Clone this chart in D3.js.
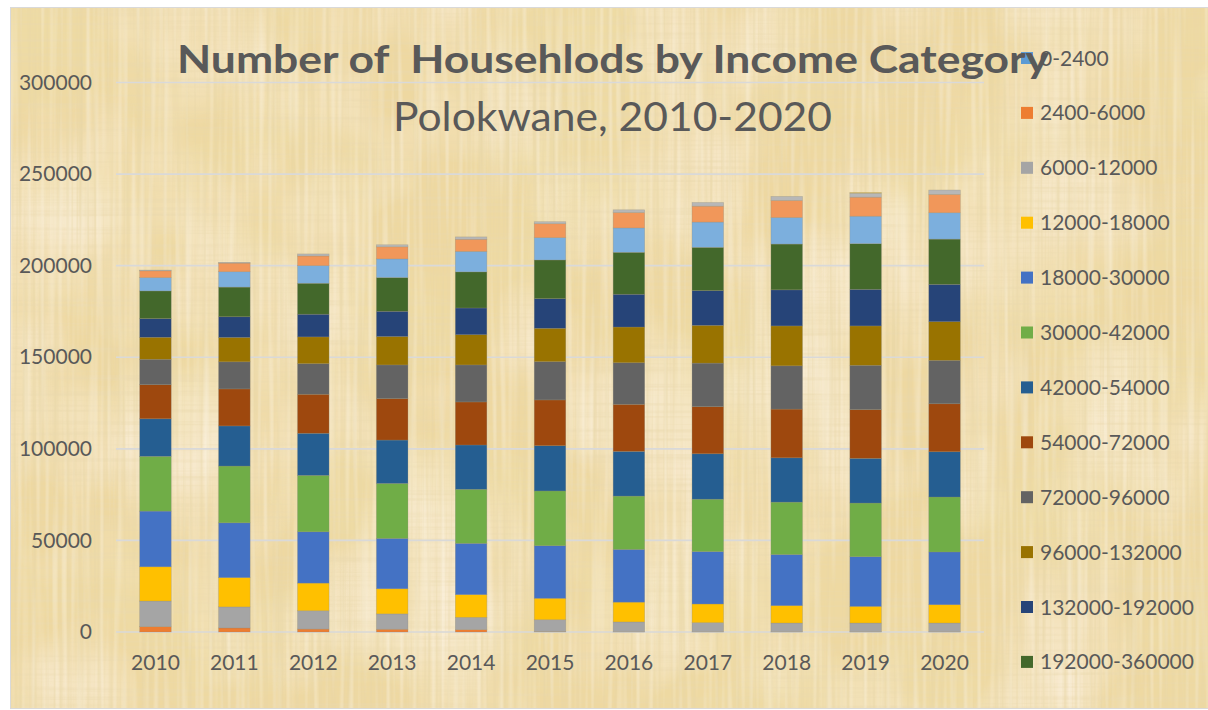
<!DOCTYPE html>
<html>
<head>
<meta charset="utf-8">
<script src="https://cdn.jsdelivr.net/npm/d3@7"></script>
<style>
  html, body { margin: 0; padding: 0; background: #ffffff; }
  svg { display: block; }
  text { font-family: Lato, "Open Sans", "Noto Sans", sans-serif; fill: #595959; }
</style>
</head>
<body>
<svg id="chart" width="1208" height="710"></svg>
<script>
// Years on the category axis
const years = ["2010", "2011", "2012", "2013", "2014", "2015", "2016", "2017", "2018", "2019", "2020"];

// Annual household income bands (Rand), bottom of the stack first
const incomeBands = [
  "0-2400", "2400-6000", "6000-12000", "12000-18000", "18000-30000", "30000-42000",
  "42000-54000", "54000-72000", "72000-96000", "96000-132000", "132000-192000",
  "192000-360000", "360000-600000", "600000-1200000", "1200000-2400000", "2400000+"
];

// Only these bands fit in the legend box
const legendBands = incomeBands.slice(0, 12);

// Number of households per band, one value per year
const band0_2400        = [0, 0, 0, 0, 0, 0, 0, 0, 0, 0, 0];
const band2400_6000     = [2900, 2200, 1600, 1500, 1300, 200, 100, 100, 100, 100, 100];
const band6000_12000    = [14000, 11500, 10000, 8400, 6700, 6500, 5400, 5000, 4800, 4800, 4800];
const band12000_18000   = [18700, 16000, 15100, 13700, 12400, 11700, 10800, 10200, 9500, 9100, 10000];
const band18000_30000   = [30400, 29900, 28000, 27500, 28000, 28700, 28800, 28600, 27900, 27100, 28800];
const band30000_42000   = [29900, 31000, 30800, 30000, 29500, 29900, 29100, 28600, 28600, 29300, 30000];
const band42000_54000   = [20500, 21900, 23000, 23700, 24200, 24700, 24400, 24800, 24200, 24400, 24700];
const band54000_72000   = [18600, 20200, 21300, 22600, 23500, 25000, 25700, 25700, 26600, 26600, 26200];
const band72000_96000   = [13900, 14800, 16700, 18400, 20200, 20900, 22700, 23800, 23600, 24200, 23700];
const band96000_132000  = [12000, 13300, 14600, 15500, 16500, 18200, 19500, 20600, 21800, 21500, 21100];
const band132000_192000 = [10200, 11300, 12400, 13800, 14600, 16200, 17900, 19000, 19700, 20000, 20400];
const band192000_360000 = [15100, 16200, 16900, 18400, 19700, 21100, 22900, 23600, 25000, 24900, 24700];
const band360000_600000 = [7300, 8400, 9600, 10200, 11200, 12200, 13300, 13800, 14500, 15000, 14400];
const band600000_1200000 = [3700, 4700, 5300, 6600, 6600, 7600, 8400, 8700, 9300, 10400, 10000];
const band1200000_2400000 = [400, 400, 1100, 1100, 1300, 1100, 1500, 2000, 2200, 2200, 2400];
const band2400000_plus  = [0, 0, 0, 0, 0, 0, 0, 0, 0, 300, 0];

const bandValues = [
  band0_2400, band2400_6000, band6000_12000, band12000_18000, band18000_30000,
  band30000_42000, band42000_54000, band54000_72000, band72000_96000,
  band96000_132000, band132000_192000, band192000_360000, band360000_600000,
  band600000_1200000, band1200000_2400000, band2400000_plus
];

// Value-axis ticks
const yTicks = [0, 50000, 100000, 150000, 200000, 250000, 300000];

const titleText = "Number of  Househlods by Income Category";
const subtitleText = "Polokwane, 2010-2020";

const bandColors = [
  "#5B9BD5", "#ED7D31", "#A5A5A5", "#FFC000", "#4472C4", "#70AD47",
  "#255E91", "#9E480E", "#636363", "#997300", "#264478", "#43682B",
  "#7CAFDD", "#F1975A", "#B7B7B7", "#FFCD33"
];

// Row-per-year table for d3.stack
const table = years.map((yr, i) => {
  const row = { year: yr };
  incomeBands.forEach((b, k) => { row[b] = bandValues[k][i]; });
  return row;
});

const svg = d3.select("#chart");
const defs = svg.append("defs");

// ---- parchment background ----
const frame = { x: 10, y: 7, w: 1198, h: 701 };

defs.append("clipPath").attr("id", "frameClip")
  .append("rect").attr("x", frame.x).attr("y", frame.y).attr("width", frame.w).attr("height", frame.h);

function noiseLayer(id, freq, octaves, seed, rgb, alphaGain, alphaBias) {
  const f = defs.append("filter").attr("id", id)
    .attr("x", 0).attr("y", 0).attr("width", "100%").attr("height", "100%")
    .attr("filterUnits", "userSpaceOnUse");
  f.append("feTurbulence").attr("type", "fractalNoise")
    .attr("baseFrequency", freq).attr("numOctaves", octaves).attr("seed", seed).attr("result", "n");
  f.append("feColorMatrix").attr("in", "n").attr("type", "matrix")
    .attr("values", `0 0 0 0 ${rgb[0]}  0 0 0 0 ${rgb[1]}  0 0 0 0 ${rgb[2]}  ${alphaGain} 0 0 0 ${alphaBias}`);
}
// broad yellow and pale patches
noiseLayer("blotchDark", "0.006 0.009", 3, 4, [0.85, 0.72, 0.38], 1.7, -0.62);
noiseLayer("blotchLight", "0.008 0.006", 3, 9, [0.97, 0.88, 0.76], 1.7, -0.70);
// straight crossing fibres
noiseLayer("fiberV", "0.30 0.004", 2, 2, [0.80, 0.67, 0.38], 1.5, -0.64);
noiseLayer("fiberH", "0.004 0.30", 2, 7, [0.82, 0.69, 0.42], 1.4, -0.63);
noiseLayer("fiberLight", "0.22 0.006", 1, 13, [0.98, 0.92, 0.80], 1.2, -0.56);

const bg = svg.append("g").attr("clip-path", "url(#frameClip)");
bg.append("rect").attr("x", frame.x).attr("y", frame.y).attr("width", frame.w).attr("height", frame.h)
  .attr("fill", "#EED8A1");
["blotchDark", "blotchLight", "fiberV", "fiberH", "fiberLight"].forEach(id => {
  bg.append("rect").attr("x", frame.x).attr("y", frame.y).attr("width", frame.w).attr("height", frame.h)
    .attr("filter", `url(#${id})`);
});
svg.append("rect").attr("x", frame.x + 0.5).attr("y", frame.y + 0.5)
  .attr("width", frame.w).attr("height", frame.h)
  .attr("fill", "none").attr("stroke", "#D9D9D9").attr("stroke-width", 1);

// ---- scales ----
const plot = { left: 116, right: 984, top: 82.5, bottom: 632 };

const x = d3.scaleBand().domain(years)
  .range([plot.left, plot.right]).paddingInner(0.6).paddingOuter(0.3);
const y = d3.scaleLinear().domain([0, 300000]).range([plot.bottom, plot.top]);

// ---- gridlines ----
svg.append("g").selectAll("line").data(yTicks).join("line")
  .attr("x1", plot.left).attr("x2", plot.right)
  .attr("y1", d => y(d)).attr("y2", d => y(d))
  .attr("stroke", "#D9D9D9").attr("stroke-width", 1.6);

// ---- value axis labels ----
const yAxis = d3.axisLeft(y).tickValues(yTicks).tickSize(0).tickPadding(0).tickFormat(d3.format("d"));
const yAxisG = svg.append("g").attr("transform", "translate(92,0)").call(yAxis);
yAxisG.select(".domain").remove();
yAxisG.selectAll("text")
  .attr("font-size", 21).attr("fill", "#595959")
  .style("font-family", "Lato, 'Open Sans', sans-serif");

// ---- stacked bars ----
const series = d3.stack().keys(incomeBands)(table);

svg.append("g").selectAll("g").data(series).join("g")
  .attr("fill", (d, i) => bandColors[i])
  .selectAll("rect").data(d => d).join("rect")
  .attr("x", d => x(d.data.year))
  .attr("width", x.bandwidth())
  .attr("y", d => y(d[1]))
  .attr("height", d => Math.max(0, y(d[0]) - y(d[1])))
  .attr("stroke", "#8f8a78").attr("stroke-opacity", 0.45).attr("stroke-width", 0.6);

// ---- category axis labels ----
const xAxis = d3.axisBottom(x).tickSize(0).tickPadding(0);
const xAxisG = svg.append("g").attr("transform", "translate(0,655)").call(xAxis);
xAxisG.select(".domain").remove();
xAxisG.selectAll("text")
  .attr("font-size", 21).attr("fill", "#595959").attr("dy", "0.71em")
  .style("font-family", "Lato, 'Open Sans', sans-serif");

// ---- legend ----
const legend = svg.append("g");
const legendRows = legend.selectAll("g").data(legendBands).join("g")
  .attr("transform", (d, i) => `translate(1021, ${58 + i * 54.9})`);
legendRows.append("rect")
  .attr("x", 0).attr("y", -6).attr("width", 12).attr("height", 12)
  .attr("fill", (d, i) => bandColors[i]);
legendRows.append("text")
  .attr("x", 19).attr("y", 7.5)
  .attr("font-size", 21)
  .text(d => d);

// ---- titles ----
svg.append("text")
  .attr("x", 177).attr("y", 72.5)
  .attr("font-size", 39).attr("font-weight", 700)
  .attr("textLength", 872).attr("lengthAdjust", "spacingAndGlyphs")
  .style("white-space", "pre")
  .text(titleText);

svg.append("text")
  .attr("x", 393).attr("y", 131)
  .attr("font-size", 40)
  .attr("textLength", 439).attr("lengthAdjust", "spacingAndGlyphs")
  .text(subtitleText);
</script>
</body>
</html>
